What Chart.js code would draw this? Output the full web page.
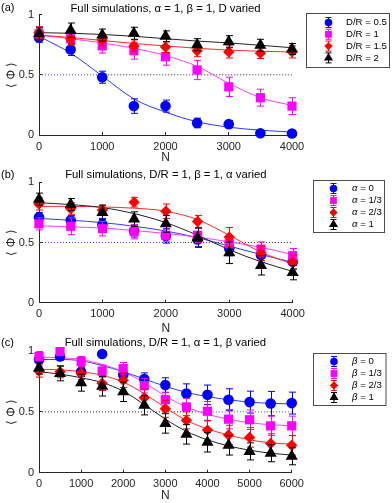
<!DOCTYPE html>
<html><head><meta charset="utf-8">
<script src="https://cdn.jsdelivr.net/npm/chart.js@4.4.1/dist/chart.umd.min.js"></script>
<style>
html,body{margin:0;padding:0;background:#fff;width:392px;height:503px;overflow:hidden;position:relative}
.p{position:absolute;left:0;width:392px}
</style></head><body>
<div class="p" style="top:0;height:170px"><canvas id="ca"></canvas></div>
<div class="p" style="top:160px;height:176px"><canvas id="cb"></canvas></div>
<div class="p" style="top:330px;height:173px"><canvas id="cc"></canvas></div>
<script>
// ---------- data ----------
const yTicks = [0, 0.5, 1];
const xTicksAB = [0, 1000, 2000, 3000, 4000];
const xTicksC = [0, 1000, 2000, 3000, 4000, 5000, 6000];
const refLevel = 0.5;

// Panel (a): D varied
const nA = [0, 500, 1000, 1500, 2000, 2500, 3000, 3500, 4000];
const aD05 = [0.81, 0.71, 0.48, 0.24, 0.24, 0.10, 0.09, 0.015, 0.012];
const aD05Err = [0.04, 0.05, 0.05, 0.06, 0.05, 0.04, 0.03, 0.01, 0.01];
const aD05Fit = [0.82, 0.68, 0.49, 0.30, 0.19, 0.11, 0.065, 0.04, 0.025];
const aD1 = [0.84, 0.80, 0.74, 0.70, 0.65, 0.54, 0.40, 0.31, 0.24];
const aD1Err = [0.05, 0.05, 0.06, 0.07, 0.07, 0.08, 0.08, 0.07, 0.07];
const aD1Fit = [0.83, 0.80, 0.765, 0.72, 0.66, 0.57, 0.43, 0.31, 0.245];
const aD15 = [0.85, 0.80, 0.79, 0.74, 0.73, 0.70, 0.69, 0.68, 0.69];
const aD15Err = [0.05, 0.05, 0.05, 0.05, 0.045, 0.05, 0.05, 0.045, 0.05];
const aD15Fit = [0.83, 0.81, 0.785, 0.76, 0.74, 0.72, 0.705, 0.695, 0.69];
const aD2 = [0.84, 0.87, 0.83, 0.845, 0.82, 0.75, 0.775, 0.745, 0.715];
const aD2Err = [0.05, 0.06, 0.05, 0.05, 0.045, 0.05, 0.05, 0.05, 0.045];
const aD2Fit = [0.85, 0.845, 0.835, 0.82, 0.80, 0.78, 0.765, 0.745, 0.725];
const aLabels = ['D/R = 0.5', 'D/R = 1', 'D/R = 1.5', 'D/R = 2'];
const aRefBlue = [0, 1000];
const aRefBlack = [1000, 4000];

// Panel (b): alpha varied
const nB = [0, 500, 1000, 1500, 2000, 2500, 3000, 3500, 4000];
const bA0 = [0.71, 0.685, 0.65, 0.595, 0.555, 0.525, 0.45, 0.395, 0.34];
const bA0Err = [0.04, 0.04, 0.05, 0.05, 0.06, 0.06, 0.06, 0.06, 0.06];
const bA0Fit = [0.70, 0.685, 0.665, 0.635, 0.595, 0.54, 0.47, 0.40, 0.335];
const bA13 = [0.655, 0.635, 0.615, 0.59, 0.56, 0.56, 0.49, 0.445, 0.39];
const bA13Err = [0.05, 0.07, 0.06, 0.06, 0.05, 0.06, 0.06, 0.06, 0.06];
const bA13Fit = [0.64, 0.63, 0.62, 0.60, 0.575, 0.545, 0.505, 0.46, 0.40];
const bA23 = [0.82, 0.78, 0.77, 0.835, 0.76, 0.675, 0.545, 0.41, 0.335];
const bA23Err = [0.05, 0.05, 0.04, 0.04, 0.06, 0.05, 0.08, 0.06, 0.06];
const bA23Fit = [0.80, 0.80, 0.795, 0.785, 0.76, 0.69, 0.56, 0.42, 0.32];
const bA1 = [0.86, 0.815, 0.75, 0.695, 0.655, 0.54, 0.415, 0.31, 0.25];
const bA1Err = [0.05, 0.05, 0.06, 0.06, 0.07, 0.08, 0.09, 0.08, 0.06];
const bA1Fit = [0.83, 0.815, 0.79, 0.74, 0.665, 0.56, 0.44, 0.34, 0.26];
const bLabels = ['α = 0', 'α = 1/3', 'α = 2/3', 'α = 1'];
const bRefBlue = [0, 2300];
const bRefBlack = [2300, 4000];

// Panel (c): beta varied
const nC = [0, 500, 1000, 1500, 2000, 2500, 3000, 3500, 4000, 4500, 5000, 5500, 6000];
const cB0 = [0.93, 0.955, 0.83, 0.975, 0.805, 0.77, 0.72, 0.65, 0.64, 0.60, 0.58, 0.568, 0.572];
const cB0Err = [0.03, 0.03, 0.04, 0, 0.04, 0.05, 0.06, 0.08, 0.08, 0.09, 0.09, 0.10, 0.09];
const cB0Fit = [0.93, 0.93, 0.92, 0.88, 0.83, 0.77, 0.71, 0.66, 0.625, 0.60, 0.58, 0.57, 0.565];
const cB13 = [0.955, 0.995, 0.915, 0.835, 0.855, 0.715, 0.60, 0.54, 0.505, 0.44, 0.435, 0.385, 0.385];
const cB13Err = [0.04, 0.03, 0.04, 0.05, 0.05, 0.06, 0.06, 0.07, 0.08, 0.08, 0.08, 0.08, 0.08];
const cB13Fit = [0.95, 0.945, 0.93, 0.89, 0.83, 0.74, 0.63, 0.54, 0.48, 0.44, 0.41, 0.395, 0.385];
const cB23 = [0.835, 0.83, 0.815, 0.735, 0.76, 0.615, 0.525, 0.43, 0.35, 0.31, 0.29, 0.24, 0.225];
const cB23Err = [0.05, 0.05, 0.05, 0.06, 0.06, 0.07, 0.07, 0.07, 0.08, 0.08, 0.08, 0.08, 0.08];
const cB23Fit = [0.85, 0.845, 0.83, 0.80, 0.745, 0.65, 0.535, 0.43, 0.36, 0.31, 0.27, 0.245, 0.235];
const cB1 = [0.86, 0.815, 0.74, 0.71, 0.665, 0.555, 0.405, 0.315, 0.25, 0.225, 0.175, 0.16, 0.135];
const cB1Err = [0.05, 0.06, 0.07, 0.08, 0.08, 0.08, 0.08, 0.08, 0.08, 0.08, 0.07, 0.07, 0.07];
const cB1Fit = [0.83, 0.81, 0.78, 0.74, 0.67, 0.56, 0.44, 0.34, 0.27, 0.22, 0.185, 0.16, 0.145];
const cLabels = ['β = 0', 'β = 1/3', 'β = 2/3', 'β = 1'];
const cRefBlack = [0, 3700];
const cRefBlue = [3700, 6000];

// ---------- styling ----------
const FONT = '"Liberation Sans", Arial, Helvetica, sans-serif';
const AX = '#262626';
const seriesStyle = [
  {color: '#0000ff', fit: '#2a3cff', style: 'circle', r: 5.3, lr: 3.8},
  {color: '#ff00ff', fit: '#ff3cff', style: 'rect', r: 6.5, lr: 4.8},
  {color: '#ff0000', fit: '#ff2a2a', style: 'rectRot', r: 5.7, lr: 4.2},
  {color: '#000000', fit: '#222222', style: 'triangle', r: 7.0, lr: 5.2}
];
Chart.defaults.font.family = FONT;

const errorBarPlugin = {
  id: 'errorBars',
  beforeDatasetDraw(chart, args) {
    const ds = chart.data.datasets[args.index];
    if (!ds.errs) return;
    const ctx = chart.ctx, ys = chart.scales.y;
    ctx.save();
    ctx.strokeStyle = ds.borderColor; ctx.lineWidth = 1;
    args.meta.data.forEach((pt, i) => {
      const e = ds.errs[i]; if (!e) return;
      const v = ds.data[i].y;
      const y1 = ys.getPixelForValue(v - e), y2 = ys.getPixelForValue(v + e);
      const x = Math.round(pt.x) + 0.5, c = 3.5;
      ctx.beginPath();
      ctx.moveTo(x, y1); ctx.lineTo(x, y2);
      ctx.moveTo(x - c, y1); ctx.lineTo(x + c, y1);
      ctx.moveTo(x - c, y2); ctx.lineTo(x + c, y2);
      ctx.stroke();
    });
    ctx.restore();
  }
};

const legendPlugin = {
  id: 'boxLegend',
  afterDraw(chart) {
    const o = chart.options.plugins.boxLegend;
    if (!o) return;
    const ctx = chart.ctx;
    ctx.save();
    ctx.fillStyle = '#fff';
    ctx.fillRect(o.x, o.y, o.w, o.h);
    ctx.strokeStyle = '#4d4d4d'; ctx.lineWidth = 1;
    ctx.strokeRect(Math.round(o.x) + 0.5, Math.round(o.y) + 0.5, o.w, o.h);
    const items = chart.data.datasets.filter(d => d.errs);
    items.forEach((d, i) => {
      const cy = o.y + o.first + i * o.step;
      const mx = o.mx;
      ctx.strokeStyle = d.borderColor; ctx.lineWidth = 1;
      ctx.beginPath();
      ctx.moveTo(mx + 0.5, cy - 5); ctx.lineTo(mx + 0.5, cy + 5);
      ctx.moveTo(mx - 2.5, cy - 5); ctx.lineTo(mx + 3.5, cy - 5);
      ctx.moveTo(mx - 2.5, cy + 5); ctx.lineTo(mx + 3.5, cy + 5);
      ctx.stroke();
      ctx.fillStyle = d.backgroundColor;
      Chart.helpers.drawPoint(ctx, {pointStyle: d.pointStyle, rotation: 0, borderWidth: 0, radius: d.legendR}, mx + 0.5, cy);
      // label with italic greek symbol
      ctx.fillStyle = '#000';
      ctx.textBaseline = 'middle';
      ctx.textAlign = 'left';
      let tx = o.tx, txt = d.label;
      if (/^[α-ω]/.test(txt)) {
        ctx.font = 'italic ' + o.fs + 'px ' + FONT;
        ctx.fillText(txt[0], tx, cy);
        tx += ctx.measureText(txt[0]).width;
        txt = txt.slice(1);
      }
      ctx.font = o.fs + 'px ' + FONT;
      ctx.fillText(txt, tx, cy);
    });
    // panel label
    ctx.fillStyle = '#000';
    ctx.font = '11px ' + FONT;
    ctx.textBaseline = 'middle'; ctx.textAlign = 'left';
    ctx.fillText(o.panel, 1, o.panelY);
    ctx.restore();
  }
};

function pts(xs, ys) { return xs.map((x, i) => ({x: x, y: ys[i]})); }

function makePanel(id, cfg) {
  const datasets = [];
  datasets.push({type: 'line', data: pts(cfg.refBlue, cfg.refBlue.map(() => refLevel)), borderColor: '#3a3aff', borderWidth: 1, borderDash: [1, 2], pointRadius: 0, order: 40});
  datasets.push({type: 'line', data: pts(cfg.refBlack, cfg.refBlack.map(() => refLevel)), borderColor: '#222', borderWidth: 1, borderDash: [1, 2], pointRadius: 0, order: 41});
  cfg.series.forEach((s, k) => {
    const st = seriesStyle[k];
    datasets.push({type: 'line', data: pts(cfg.xs, s.fit), borderColor: st.fit, borderWidth: 1, pointRadius: 0,
      cubicInterpolationMode: 'monotone', clip: false, order: 30 - k});
    datasets.push({type: 'scatter', label: s.label, data: pts(cfg.xs, s.ys), errs: s.errs,
      pointStyle: st.style, pointRadius: st.r, legendR: st.lr, backgroundColor: st.color, borderColor: st.color,
      borderWidth: 0, showLine: false, clip: false, order: 10 - k});
  });
  return new Chart(document.getElementById(id), {
    type: 'scatter',
    data: {datasets},
    plugins: [errorBarPlugin, legendPlugin],
    options: {
      responsive: true, maintainAspectRatio: false, animation: false, devicePixelRatio: 1,
      layout: {padding: {left: 0, right: cfg.padR, top: 0, bottom: 0}},
      plugins: {
        legend: {display: false}, tooltip: {enabled: false},
        title: {display: true, text: cfg.title, fullSize: false, color: '#000',
          font: {family: FONT, size: 11.3, weight: 'normal', lineHeight: 1},
          padding: {top: cfg.tPt, bottom: cfg.tPb}},
        boxLegend: cfg.legend
      },
      scales: {
        x: {type: 'linear', min: 0, max: cfg.xMax, position: 'bottom',
          afterBuildTicks: s => { s.ticks = cfg.xTicks.map(v => ({value: v})); },
          afterFit: s => { s.height = cfg.xBoxH; },
          ticks: {callback: v => String(v), font: {family: FONT, size: 11}, color: AX, padding: 8, maxRotation: 0, autoSkip: false},
          grid: {drawOnChartArea: false, drawTicks: true, tickLength: -3, color: AX, lineWidth: 1},
          border: {display: true, color: AX, width: 1},
          title: {display: true, text: 'N', color: AX, font: {family: FONT, size: 12}, padding: {top: 0, bottom: cfg.nPb}}
        },
        y: {type: 'linear', min: 0, max: 1, position: 'left',
          afterBuildTicks: s => { s.ticks = yTicks.map(v => ({value: v})); },
          afterFit: s => { s.width = 39; },
          ticks: {callback: v => String(v), font: {family: FONT, size: 11}, color: AX, padding: 8},
          grid: {drawOnChartArea: false, drawTicks: true, tickLength: -3, color: AX, lineWidth: 1},
          border: {display: true, color: AX, width: 1},
          title: {display: true, text: '⟨ Φ ⟩', color: AX, font: {family: FONT, size: 12}, padding: {top: 4, bottom: 0}}
        }
      }
    }
  });
}

makePanel('ca', {
  xs: nA, xMax: 4000, xTicks: xTicksAB, refBlue: aRefBlue, refBlack: aRefBlack,
  title: 'Full simulations, α = 1, β = 1, D varied',
  series: [
    {label: aLabels[0], ys: aD05, errs: aD05Err, fit: aD05Fit},
    {label: aLabels[1], ys: aD1, errs: aD1Err, fit: aD1Fit},
    {label: aLabels[2], ys: aD15, errs: aD15Err, fit: aD15Fit},
    {label: aLabels[3], ys: aD2, errs: aD2Err, fit: aD2Fit}
  ],
  padR: 100, tPt: 2.5, tPb: 0.2, xBoxH: 35, nPb: 4.8,
  legend: {x: 306, y: 13, w: 83, h: 54, first: 9.5, step: 11.8, mx: 328, tx: 346, fs: 9.6, panel: '(a)', panelY: 8}
});
makePanel('cb', {
  xs: nB, xMax: 4000, xTicks: xTicksAB, refBlue: bRefBlue, refBlack: bRefBlack,
  title: 'Full simulations, D/R = 1, β = 1, α varied',
  series: [
    {label: bLabels[0], ys: bA0, errs: bA0Err, fit: bA0Fit},
    {label: bLabels[1], ys: bA13, errs: bA13Err, fit: bA13Fit},
    {label: bLabels[2], ys: bA23, errs: bA23Err, fit: bA23Fit},
    {label: bLabels[3], ys: bA1, errs: bA1Err, fit: bA1Fit}
  ],
  padR: 99.3, tPt: 9, tPb: 2, xBoxH: 33.3, nPb: 0.3,
  legend: {x: 312.5, y: 20, w: 71, h: 52, first: 8.5, step: 12, mx: 333, tx: 352, fs: 9.6, panel: '(b)', panelY: 14.5}
});
makePanel('cc', {
  xs: nC, xMax: 6000, xTicks: xTicksC, refBlue: cRefBlue, refBlack: cRefBlack,
  title: 'Full simulations, D/R = 1, α = 1, β varied',
  series: [
    {label: cLabels[0], ys: cB0, errs: cB0Err, fit: cB0Fit},
    {label: cLabels[1], ys: cB13, errs: cB13Err, fit: cB13Fit},
    {label: cLabels[2], ys: cB23, errs: cB23Err, fit: cB23Fit},
    {label: cLabels[3], ys: cB1, errs: cB1Err, fit: cB1Fit}
  ],
  padR: 100.3, tPt: 7.5, tPb: 2.2, xBoxH: 30.3, nPb: 0,
  legend: {x: 313, y: 23, w: 72.5, h: 52, first: 8.5, step: 12, mx: 333.5, tx: 352, fs: 9.6, panel: '(c)', panelY: 13}
});
</script>
</body></html>
